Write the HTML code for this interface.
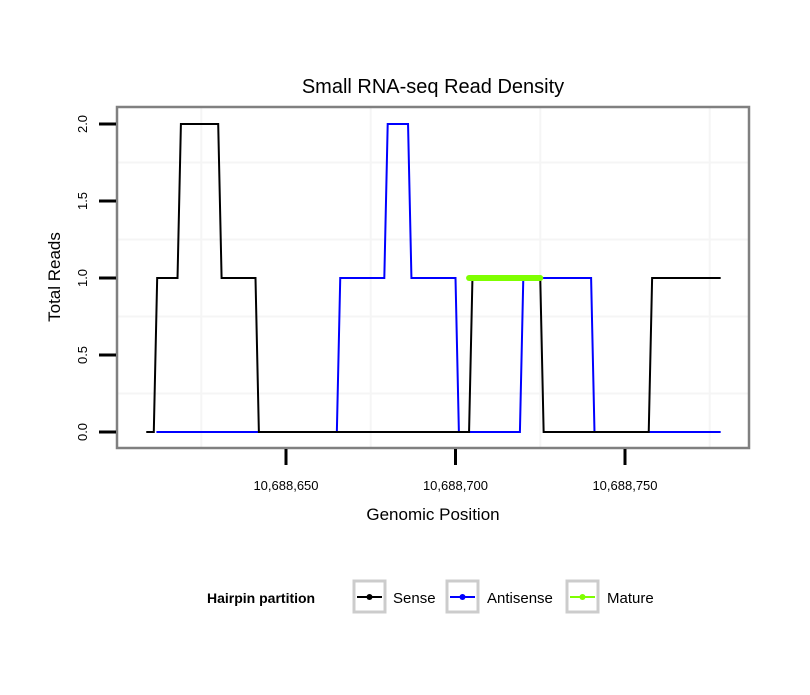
<!DOCTYPE html>
<html><head><meta charset="utf-8"><style>
body{margin:0;background:#fff;}
svg text{font-family:"Liberation Sans",Arial,sans-serif;}
</style></head><body>
<svg id="chart" width="810" height="690" xmlns="http://www.w3.org/2000/svg">
<rect width="810" height="690" fill="#fff"/>
<text x="433" y="93" font-size="20" text-anchor="middle">Small RNA-seq Read Density</text>
<g id="grid"></g>
<g id="series"></g>
<rect x="117" y="107" width="632" height="341" fill="none" stroke="#808080" stroke-width="2.5"/>
<g id="axes"></g>
<text x="433" y="520" font-size="17" text-anchor="middle">Genomic Position</text>
<text transform="translate(60,277) rotate(-90)" font-size="17" text-anchor="middle">Total Reads</text>
<g>
<text x="207" y="603" font-size="14" font-weight="bold">Hairpin partition</text>
<g>
<rect x="354" y="581" width="31" height="31" fill="#fff" stroke="#ccc" stroke-width="3"/>
<line x1="357" y1="597" x2="382" y2="597" stroke="#000" stroke-width="2"/><circle cx="369.5" cy="597" r="3" fill="#000"/>
<text x="393" y="603" font-size="15">Sense</text></g>
<g>
<rect x="447" y="581" width="31" height="31" fill="#fff" stroke="#ccc" stroke-width="3"/>
<line x1="450" y1="597" x2="475" y2="597" stroke="#0000ff" stroke-width="2"/><circle cx="462.5" cy="597" r="3" fill="#0000ff"/>
<text x="487" y="603" font-size="15">Antisense</text></g>
<g>
<rect x="567" y="581" width="31" height="31" fill="#fff" stroke="#ccc" stroke-width="3"/>
<line x1="570" y1="597" x2="595" y2="597" stroke="#7fff00" stroke-width="2"/><circle cx="582.5" cy="597" r="3" fill="#7fff00"/>
<text x="607" y="603" font-size="15">Mature</text></g>
</g>
</svg>
<script>
const senseX=[609,611,612,618,619,630,631,641,642,704,705,725,726,757,758,778];
const senseY=[0,0,1,1,2,2,1,1,0,0,1,1,0,0,1,1];
const antiX=[612,665,666,679,680,686,687,700,701,719,720,740,741,778];
const antiY=[0,0,1,1,2,2,1,1,0,0,1,1,0,0];
const matureX=[704,725];
const matureY=[1,1];
const xTicks=[650,700,750];
const xTickLabels=["10,688,650","10,688,700","10,688,750"];
const yTicks=[0,0.5,1,1.5,2];
const yTickLabels=["0.0","0.5","1.0","1.5","2.0"];
const xMinor=[625,675,725,775];
const yMinor=[0.25,0.75,1.25,1.75];

const NS="http://www.w3.org/2000/svg";
function xs(v){return 455.5+(v-700)*3.39;}
function ys(v){return 432-v*154;}
function mk(tag,attrs,parent){const e=document.createElementNS(NS,tag);for(const k in attrs)e.setAttribute(k,attrs[k]);parent.appendChild(e);return e;}
const grid=document.getElementById('grid'),axes=document.getElementById('axes'),series=document.getElementById('series');
xMinor.forEach(v=>{const l=mk('line',{x1:xs(v),x2:xs(v),y1:108,y2:447,stroke:'#f5f5f5','stroke-width':2},grid);

});
yMinor.forEach(v=>{const l=mk('line',{x1:118,x2:748,y1:ys(v),y2:ys(v),stroke:'#f5f5f5','stroke-width':2},grid);

});
xTicks.forEach((v,i)=>{const l=mk('line',{x1:xs(v),x2:xs(v),y1:449,y2:465,stroke:'#000','stroke-width':3},axes);


const t=mk('text',{x:xs(v),y:490,'font-size':13,'text-anchor':'middle'},axes);t.textContent=xTickLabels[i];

});
yTicks.forEach((v,i)=>{const l=mk('line',{x1:99,x2:116,y1:ys(v),y2:ys(v),stroke:'#000','stroke-width':3},axes);


const t=mk('text',{transform:`translate(87,${ys(v)}) rotate(-90)`,'font-size':13,'text-anchor':'middle'},axes);t.textContent=yTickLabels[i];

});
function path(X,Y,color,w,name){const d=X.map((x,i)=>(i?'L':'M')+xs(x)+','+ys(Y[i])).join('');
const p=mk('path',{d:d,fill:'none',stroke:color,'stroke-width':w,'stroke-linecap':'round','stroke-linejoin':'miter'},series);

}
path(antiX,antiY,'#0000ff',2,'antisense-line');
path(senseX,senseY,'#000000',2,'sense-line');
path(matureX,matureY,'#7fff00',6,'mature-line');
</script>
</body></html>
